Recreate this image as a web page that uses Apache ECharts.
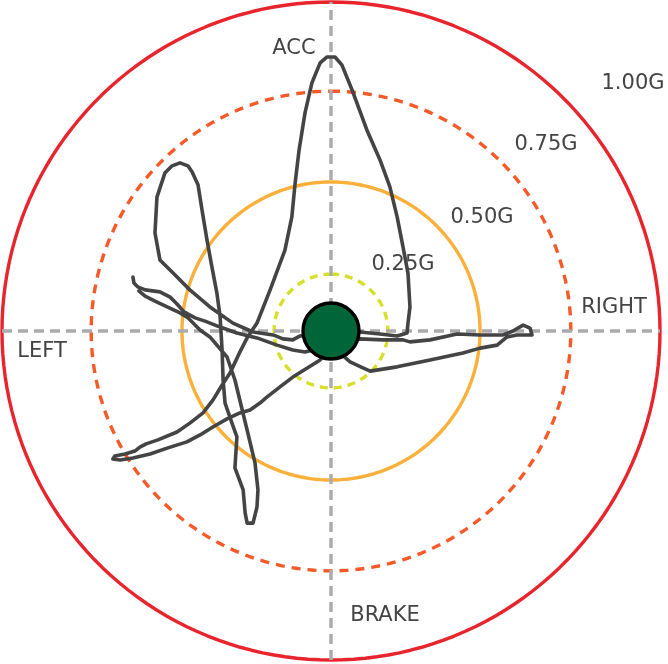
<!DOCTYPE html>
<html><head><meta charset="utf-8">
<script src="https://cdn.jsdelivr.net/npm/echarts@6/dist/echarts.min.js"></script>
<style>html,body{margin:0;padding:0;background:#fff;}#c{width:668px;height:664px;}</style>
</head><body><div id="c"></div>
<script>
// Ring labels and their radial position in plot units (outer ring = 1)
const ringLabels = ['0.25G', '0.50G', '0.75G', '1.00G'];
const ringRadius = [0.173, 0.453, 0.729, 1.0];
const directionLabels = ['ACC', 'RIGHT', 'BRAKE', 'LEFT'];

// G trace: lateral (right +) and longitudinal (acc +), plot units
const traceLat = [
 -0.602,-0.599,-0.587,-0.565,-0.520,-0.489,-0.468,-0.447,-0.413,-0.383,-0.337,-0.286,-0.225,-0.164,-0.116,-0.079,0.000,
 0.088,0.158,0.219,0.240,0.301,0.383,0.453,0.523,0.553,0.584,0.605,0.611,0.565,0.535,0.505,0.453,0.401,0.301,0.201,0.119,0.097,0.058,0.000,
 -0.033,-0.116,-0.155,-0.195,-0.216,-0.246,-0.277,-0.316,-0.359,-0.398,-0.438,-0.498,-0.550,-0.602,-0.641,-0.663,
 -0.657,-0.626,-0.596,-0.581,-0.562,-0.526,-0.468,-0.429,-0.389,-0.359,-0.331,-0.307,-0.277,-0.255,-0.225,-0.185,-0.140,-0.119,-0.109,-0.097,-0.079,-0.058,-0.033,-0.012,
 0.012,0.033,0.064,0.109,0.149,0.179,0.201,0.219,0.234,0.240,0.234,0.231,0.201,0.149,0.088,0.000,
 -0.094,-0.116,-0.146,-0.176,-0.237,-0.298,-0.368,-0.429,-0.480,-0.520,-0.535,-0.529,-0.505,-0.483,-0.459,-0.435,-0.422,
 -0.404,-0.392,-0.377,-0.362,-0.347,-0.337,-0.331,-0.328,-0.322,-0.301,-0.286,-0.292,-0.267,-0.261,-0.255,-0.237,
 -0.225,-0.222,-0.231,-0.255,-0.292,-0.316,-0.368,-0.398,-0.435,-0.459,-0.498,-0.535,-0.565,-0.584
];
const traceLon = [
 0.164,0.146,0.134,0.125,0.119,0.103,0.082,0.058,0.040,0.030,0.012,-0.006,-0.021,-0.043,-0.058,-0.064,-0.043,
 -0.024,-0.027,-0.027,-0.033,-0.027,-0.009,-0.012,-0.012,0.000,0.018,0.009,-0.012,-0.012,-0.018,-0.043,-0.052,-0.067,-0.088,-0.109,-0.122,-0.112,-0.094,-0.043,
 -0.088,-0.140,-0.170,-0.201,-0.219,-0.240,-0.249,-0.267,-0.292,-0.316,-0.337,-0.356,-0.374,-0.386,-0.392,-0.389,
 -0.380,-0.374,-0.365,-0.353,-0.343,-0.331,-0.307,-0.280,-0.249,-0.210,-0.164,-0.128,-0.064,-0.021,0.024,0.125,0.246,0.347,0.450,0.550,0.663,0.754,0.815,0.833,
 0.833,0.809,0.733,0.611,0.520,0.438,0.347,0.255,0.176,0.073,0.024,-0.006,-0.015,-0.009,-0.003,0.000,
 -0.015,-0.027,-0.024,-0.012,-0.003,0.024,0.073,0.125,0.176,0.216,0.298,0.407,0.480,0.502,0.511,0.502,0.483,
 0.444,0.368,0.277,0.195,0.116,0.043,-0.058,-0.149,-0.219,-0.280,-0.322,-0.416,-0.483,-0.553,-0.584,-0.584,
 -0.535,-0.483,-0.401,-0.301,-0.149,-0.079,-0.018,0.003,0.040,0.055,0.073,0.091,0.106,0.122
];

const ringStyles = [
  {color:'#d5e02b', width:3.4, type:[8,6]},
  {color:'#fbb03b', width:3.4, type:'solid'},
  {color:'#f55a28', width:3.4, type:[9,7]},
  {color:'#e8242c', width:3.4, type:'solid'}
];
const angles = [];
for (let a = 0; a <= 360; a += 2) angles.push(a);

const series = [];
ringRadius.forEach((r, i) => {
  series.push({
    type:'line', coordinateSystem:'polar', polarIndex:0, showSymbol:false, silent:true, clip:false,
    data: angles.map(a => [r, a]), lineStyle: ringStyles[i], z:1
  });
});
const axisStyle = {color:'#aaaaaf', width:3.4, type:[10,6]};
series.push({
  type:'line', xAxisIndex:0, yAxisIndex:0, showSymbol:false, silent:true, clip:false,
  data:[[0,-1],[0,1]], lineStyle:axisStyle, z:2
});
series.push({
  type:'line', xAxisIndex:0, yAxisIndex:0, showSymbol:false, silent:true, clip:false,
  data:[[-1,0],[1,0]], lineStyle:axisStyle, z:2
});
series.push({
  type:'line', xAxisIndex:0, yAxisIndex:0, showSymbol:false, silent:true, clip:false,
  data: traceLat.map((x, i) => [x, traceLon[i]]),
  lineStyle:{color:'#444444', width:3.6, join:'round', cap:'round'}, z:3
});
series.push({
  type:'scatter', xAxisIndex:0, yAxisIndex:0, silent:true, clip:false,
  data:[[0,0]], symbolSize:56,
  itemStyle:{color:'#00663a', borderColor:'#000', borderWidth:3.4, opacity:1}, z:4
});

const txt = (s, x, y) => ({type:'text', x:x, y:y, z:10,
  style:{text:s, fill:'#444', font:'21px "DejaVu Sans"', textAlign:'center', textVerticalAlign:'middle'}});

const chart = echarts.init(document.getElementById('c'), null, {renderer:'canvas'});
chart.setOption({
  animation:false,
  backgroundColor:'#fff',
  grid:{left:2, top:2, width:658, height:658},
  xAxis:{type:'value', min:-1, max:1, show:false},
  yAxis:{type:'value', min:-1, max:1, show:false},
  polar:{center:[331,331], radius:329 * 1.05},
  angleAxis:{type:'value', min:0, max:360, show:false},
  radiusAxis:{type:'value', min:0, max:1.05, show:false},
  series: series,
  graphic: [
    txt(directionLabels[0], 294, 49),
    txt(directionLabels[1], 614, 308),
    txt(directionLabels[2], 385, 616),
    txt(directionLabels[3], 42, 352),
    txt(ringLabels[3], 633, 84),
    txt(ringLabels[2], 546, 145),
    txt(ringLabels[1], 482, 218),
    txt(ringLabels[0], 403, 265)
  ]
});
</script></body></html>
